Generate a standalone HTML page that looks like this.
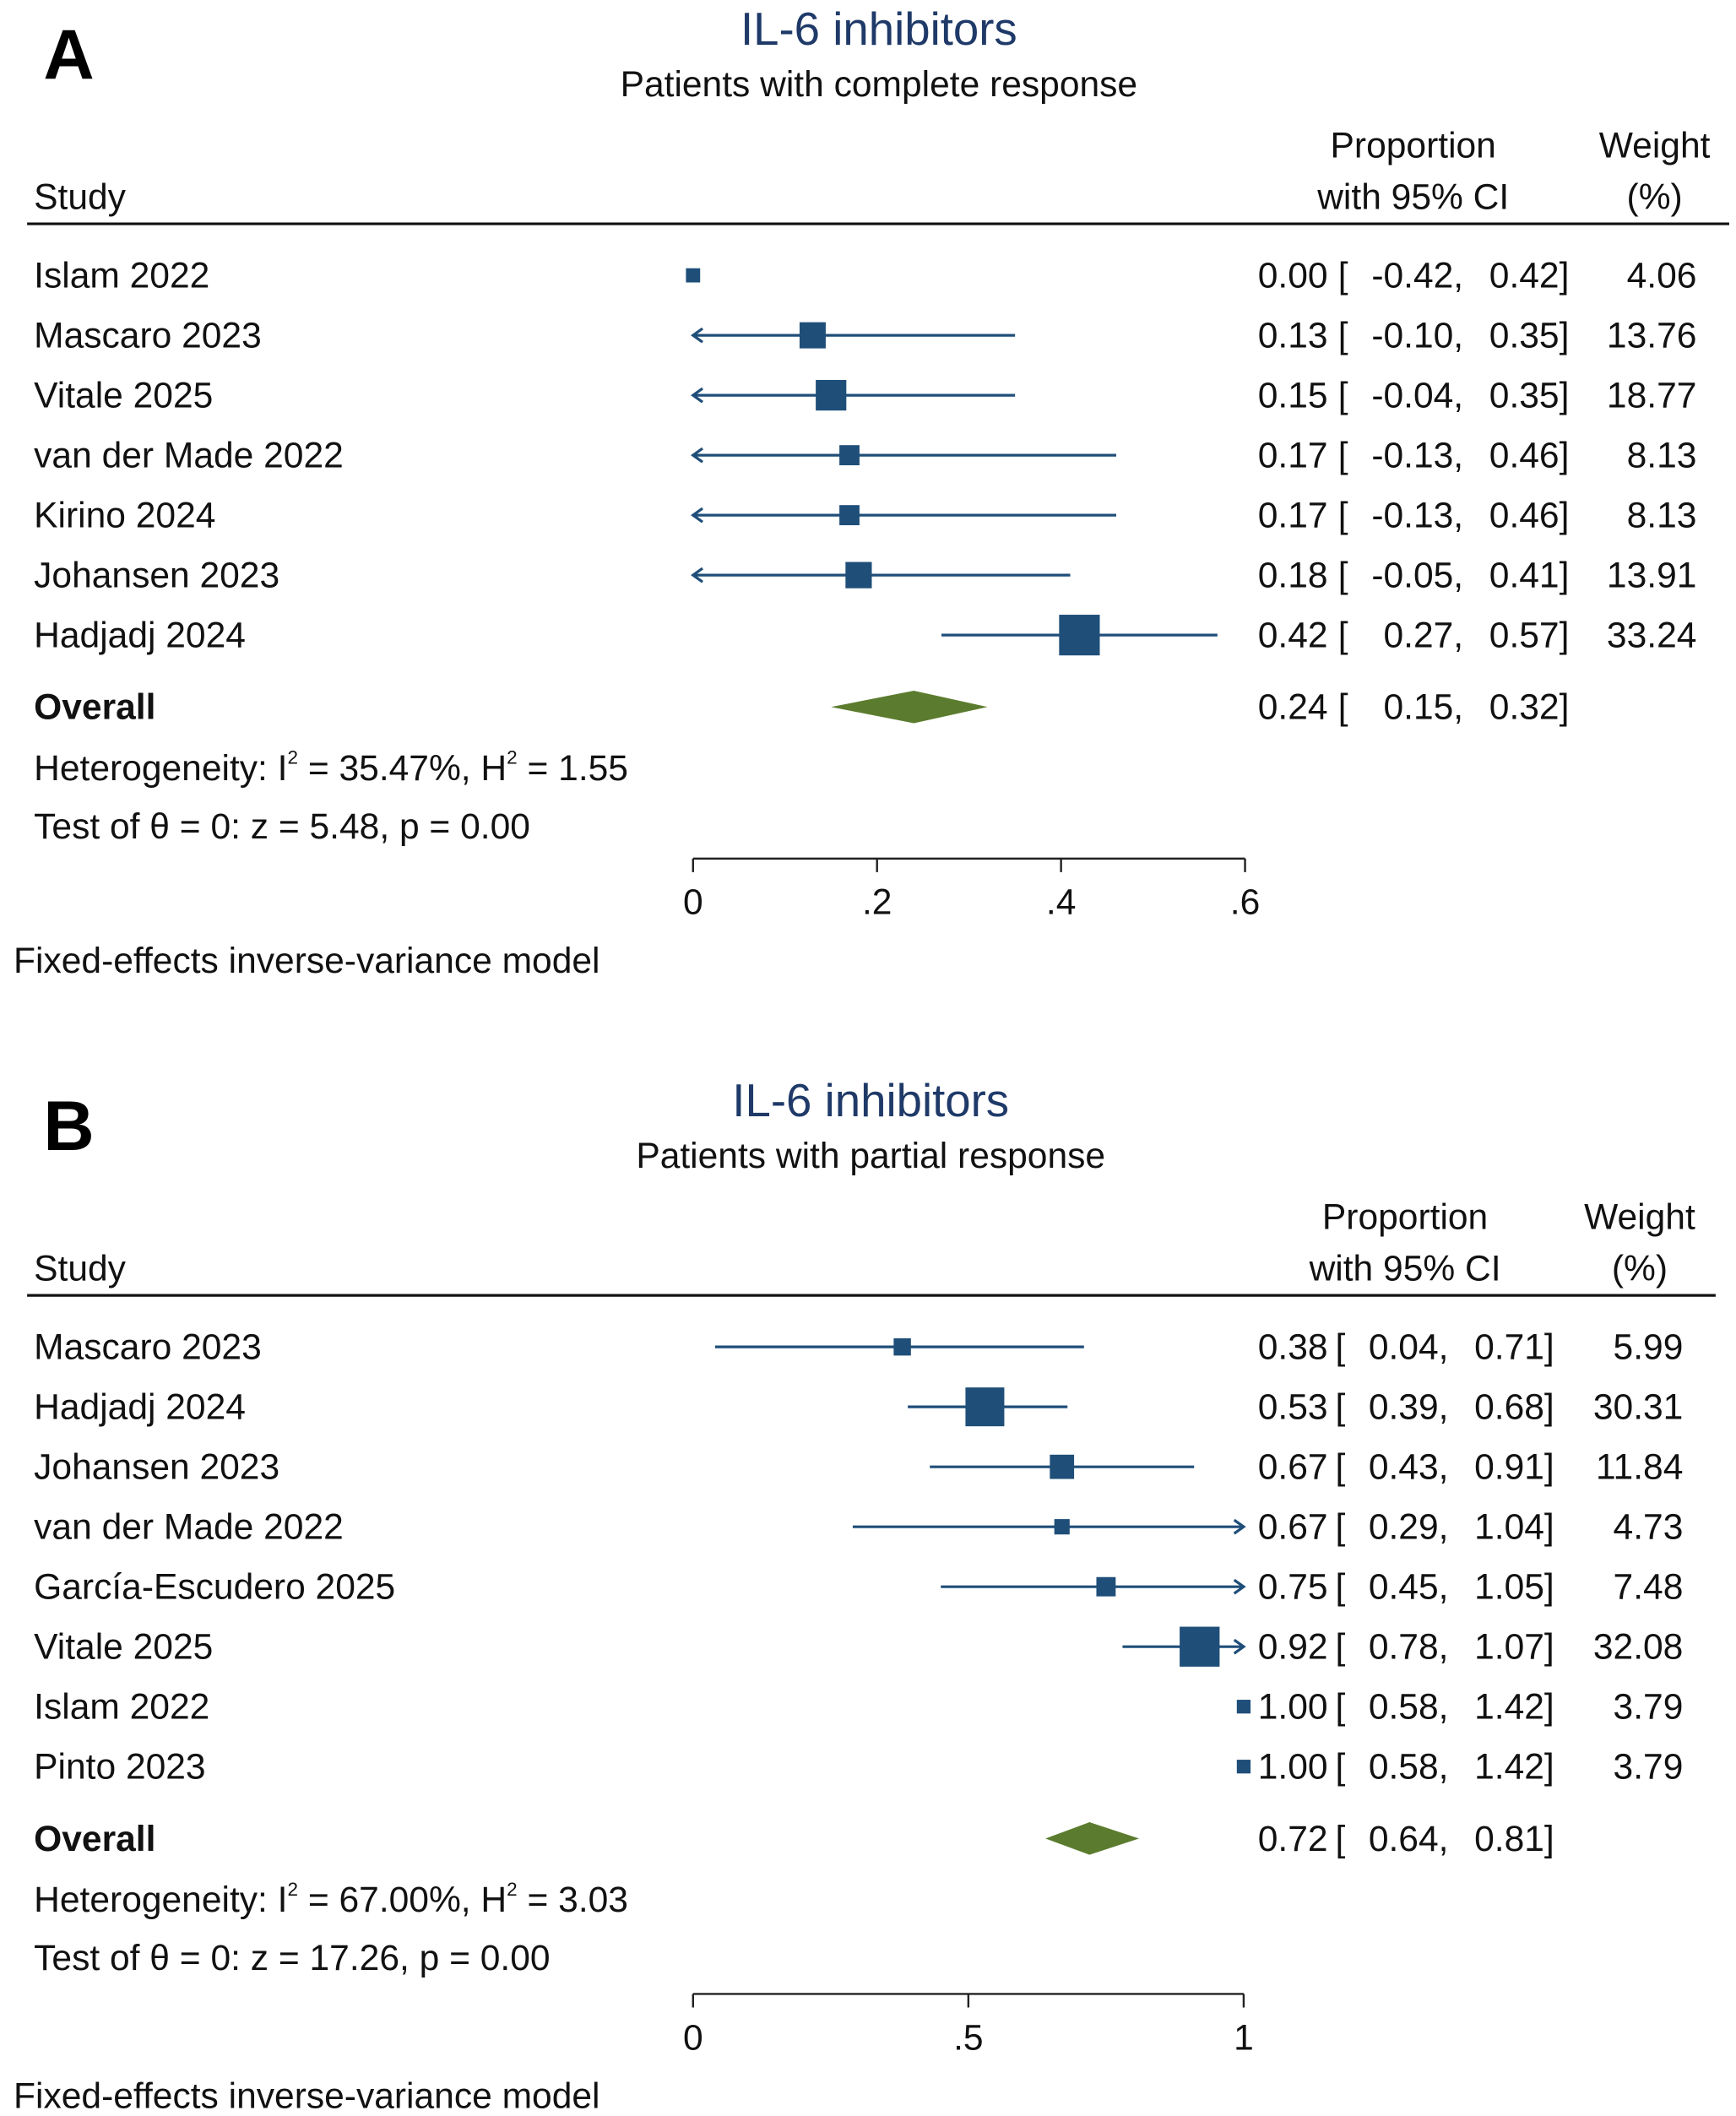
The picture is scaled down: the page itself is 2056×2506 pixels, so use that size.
<!DOCTYPE html>
<html><head><meta charset="utf-8">
<style>
html,body{margin:0;padding:0;background:#fff;}
svg{display:block;}
text{font-family:"Liberation Sans",Arial,sans-serif;}
</style></head>
<body>
<svg id="chart" width="2056" height="2506" viewBox="0 0 1280 1560" preserveAspectRatio="none" xmlns="http://www.w3.org/2000/svg">
<rect x="0" y="0" width="1280" height="1560" fill="#fff"/>
</svg>
<script>
// Panel A data
const studiesA = ["Islam 2022","Mascaro 2023","Vitale 2025","van der Made 2022","Kirino 2024","Johansen 2023","Hadjadj 2024"];
const estA = [0.00,0.13,0.15,0.17,0.17,0.18,0.42];
const lowA = [-0.42,-0.10,-0.04,-0.13,-0.13,-0.05,0.27];
const highA = [0.42,0.35,0.35,0.46,0.46,0.41,0.57];
const weightA = [4.06,13.76,18.77,8.13,8.13,13.91,33.24];
const overallA = [0.24,0.15,0.32];
const ticksA = [0,0.2,0.4,0.6];
const tickLabelsA = ["0",".2",".4",".6"];
// Panel B data
const studiesB = ["Mascaro 2023","Hadjadj 2024","Johansen 2023","van der Made 2022","García-Escudero 2025","Vitale 2025","Islam 2022","Pinto 2023"];
const estB = [0.38,0.53,0.67,0.67,0.75,0.92,1.00,1.00];
const lowB = [0.04,0.39,0.43,0.29,0.45,0.78,0.58,0.58];
const highB = [0.71,0.68,0.91,1.04,1.05,1.07,1.42,1.42];
const weightB = [5.99,30.31,11.84,4.73,7.48,32.08,3.79,3.79];
const overallB = [0.72,0.64,0.81];
const ticksB = [0,0.5,1];
const tickLabelsB = ["0",".5","1"];

const NS="http://www.w3.org/2000/svg";
const svg=document.getElementById('chart');
const FS=26.5;
function el(tag,attrs,parent){const e=document.createElementNS(NS,tag);for(const k in attrs)e.setAttribute(k,attrs[k]);(parent||svg).appendChild(e);return e;}
function txt(s,x,y,attrs,parent){const t=el('text',Object.assign({x:x,y:y,'font-size':FS,fill:'#111'},attrs||{}),parent);t.textContent=s;return t;}
const f2=v=>v.toFixed(2);

function panel(cfg){
  const g=el('g',{});
  
  
  const o=cfg.oy;
  const sx=v=>cfg.x0+(v-cfg.dmin)/(cfg.dmax-cfg.dmin)*(cfg.x1-cfg.x0);
  let t=txt(cfg.letter,32,o+58,{'font-size':52,'font-weight':'bold',fill:'#000'},g);
  
  t=txt('IL-6 inhibitors',cfg.titleX,o+33,{'font-size':34,'text-anchor':'middle',fill:'#1f3a68'},g);
  
  t=txt(cfg.subtitle,cfg.titleX,o+71,{'text-anchor':'middle'},g);
  
  t=txt('Study',25,o+154,{},g);
  
  t=txt('Proportion',cfg.propX,o+116,{'text-anchor':'middle'},g);
  
  t=txt('with 95% CI',cfg.propX,o+154,{'text-anchor':'middle'},g);
  
  t=txt('Weight',cfg.wX,o+116,{'text-anchor':'middle'},g);
  
  t=txt('(%)',cfg.wX,o+154,{'text-anchor':'middle'},g);
  
  let l=el('line',{x1:20,x2:cfg.lineEnd,y1:o+165,y2:o+165,stroke:'#111','stroke-width':2},g);
  
  const col='#1f4e79';
  cfg.studies.forEach((s,i)=>{
    const y=o+203+i*44.2;
    const rg=el('g',{},g);
    
    
    txt(s,25,y+9,{},rg);
    const lo=Math.max(cfg.low[i],cfg.dmin), hi=Math.min(cfg.high[i],cfg.dmax);
    const xl=sx(lo), xh=sx(hi);
    if(cfg.est[i]>cfg.dmin && cfg.est[i]<cfg.dmax){
      const ln=el('line',{x1:xl,x2:xh,y1:y,y2:y,stroke:col,'stroke-width':2},rg);
      
      
      if(cfg.low[i]<cfg.dmin){const a=el('path',{d:`M${xl+7},${y-5} L${xl},${y} L${xl+7},${y+5}`,fill:'none',stroke:col,'stroke-width':2},rg);}
      if(cfg.high[i]>cfg.dmax){const a=el('path',{d:`M${xh-7},${y-5} L${xh},${y} L${xh-7},${y+5}`,fill:'none',stroke:col,'stroke-width':2},rg);}
    }
    const side=5.2*Math.sqrt(cfg.weight[i]);
    const cx=sx(Math.min(cfg.est[i],cfg.dmax));
    const sq=el('rect',{x:cx-side/2,y:y-side/2,width:side,height:side,fill:col},rg);
    
    
    txt(f2(cfg.est[i]),cfg.estR,y+9,{'text-anchor':'end'},rg);
    txt('[',cfg.brX,y+9,{'text-anchor':'end'},rg);
    txt(f2(cfg.low[i])+',',cfg.lowR,y+9,{'text-anchor':'end'},rg);
    txt(f2(cfg.high[i])+']',cfg.highR,y+9,{'text-anchor':'end'},rg);
    txt(f2(cfg.weight[i]),cfg.wR,y+9,{'text-anchor':'end'},rg);
  });
  const oy=o+203+(cfg.studies.length-1)*44.2+53;
  t=txt('Overall',25,oy+9,{'font-weight':'bold'},g);
  
  const d=el('polygon',{points:`${sx(cfg.overall[1])},${oy} ${sx(cfg.overall[0])},${oy-12} ${sx(cfg.overall[2])},${oy} ${sx(cfg.overall[0])},${oy+12}`,fill:'#5b7c2e'},g);
  
  txt(f2(cfg.overall[0]),cfg.estR,oy+9,{'text-anchor':'end'},g);
  txt('[',cfg.brX,oy+9,{'text-anchor':'end'},g);
  txt(f2(cfg.overall[1])+',',cfg.lowR,oy+9,{'text-anchor':'end'},g);
  txt(f2(cfg.overall[2])+']',cfg.highR,oy+9,{'text-anchor':'end'},g);
  const het=txt('',25,oy+54,{},g);
  
  het.innerHTML=`Heterogeneity: I<tspan dy="-12" font-size="14">2</tspan><tspan dy="12"> = ${cfg.i2}, H</tspan><tspan dy="-12" font-size="14">2</tspan><tspan dy="12"> = ${cfg.h2}</tspan>`;
  t=txt(cfg.test,25,oy+97,{},g);
  
  const ay=cfg.axisY;
  l=el('line',{x1:sx(cfg.dmin),x2:sx(cfg.dmax),y1:ay,y2:ay,stroke:'#222','stroke-width':1.5},g);
  
  cfg.ticks.forEach((v,i)=>{
    const tk=el('line',{x1:sx(v),x2:sx(v),y1:ay,y2:ay+10,stroke:'#222','stroke-width':1.5},g);
    
    const tl=txt(cfg.tickLabels[i],sx(v),ay+41,{'text-anchor':'middle'},g);
    
  });
  t=txt('Fixed-effects inverse-variance model',10,ay+84,{},g);
  
}

panel({name:'panel-a',letter:'A',oy:0,titleX:648,subtitle:'Patients with complete response',propX:1042,wX:1220,lineEnd:1275,
  studies:studiesA,est:estA,low:lowA,high:highA,weight:weightA,overall:overallA,ticks:ticksA,tickLabels:tickLabelsA,
  dmin:0,dmax:0.6,x0:511,x1:918,estR:979,brX:994,lowR:1079,highR:1157,wR:1251,
  i2:'35.47%',h2:'1.55',test:'Test of θ = 0: z = 5.48, p = 0.00',axisY:633});
panel({name:'panel-b',letter:'B',oy:790,titleX:642,subtitle:'Patients with partial response',propX:1036,wX:1209,lineEnd:1265,
  studies:studiesB,est:estB,low:lowB,high:highB,weight:weightB,overall:overallB,ticks:ticksB,tickLabels:tickLabelsB,
  dmin:0,dmax:1,x0:511,x1:917,estR:979,brX:992,lowR:1068,highR:1146,wR:1241,
  i2:'67.00%',h2:'3.03',test:'Test of θ = 0: z = 17.26, p = 0.00',axisY:1470});
</script>
</body></html>
